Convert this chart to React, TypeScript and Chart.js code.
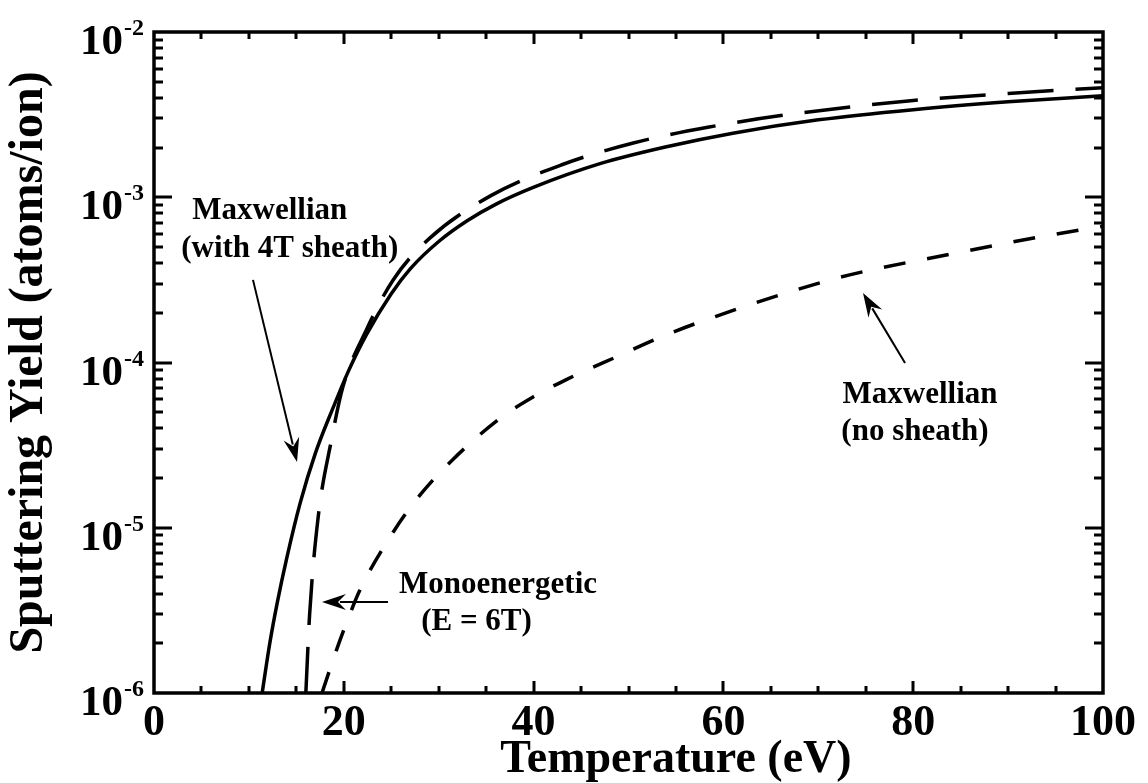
import React, { useEffect, useRef } from 'react';
import { Chart, registerables } from 'chart.js';

Chart.register(...registerables);

// ---- Data (temperature in eV, sputtering yield in atoms/ion) ----
const sheathTemp = [11.4, 12.2, 13.0, 14.0, 15.4, 17.0, 18.9, 20.5, 22.4, 25.0, 27.0, 30.0, 33.0, 36.0, 39.9, 47.0, 54.0, 61.0, 70.0, 80.0, 90.0, 100];
const sheathYield = [1e-6, 2.0e-6, 3.55e-6, 6.6e-6, 1.41e-5, 2.82e-5, 5.37e-5, 8.9e-5, 1.48e-4, 2.61e-4, 3.69e-4, 5.4e-4, 7.21e-4, 9.06e-4, 1.143e-3, 1.596e-3, 2.02e-3, 2.44e-3, 2.94e-3, 3.39e-3, 3.78e-3, 4.12e-3];

const monoTemp = [16.0, 16.4, 17.3, 18.7, 19.9, 22.4, 25.2, 29.0, 35.5, 42.9, 50.5, 58.5, 66.6, 80.0, 90.0, 100];
const monoYield = [1e-6, 3.0e-6, 1.16e-5, 3.4e-5, 7.1e-5, 1.585e-4, 3.16e-4, 5.62e-4, 1.023e-3, 1.567e-3, 2.13e-3, 2.66e-3, 3.15e-3, 3.85e-3, 4.25e-3, 4.6e-3];

const noSheathTemp = [17.7, 19.3, 20.3, 21.7, 25.2, 28.0, 31.5, 36.5, 39.9, 43.5, 48.8, 54.1, 59.3, 68.1, 73.3, 83.6, 94.1, 100];
const noSheathYield = [1e-6, 1.87e-6, 2.67e-6, 4.2e-6, 9.4e-6, 1.57e-5, 2.59e-5, 4.61e-5, 6.17e-5, 7.91e-5, 1.086e-4, 1.48e-4, 1.91e-4, 2.8e-4, 3.39e-4, 4.49e-4, 5.86e-4, 6.67e-4];

// ---- Axis ----
const xMin = 0;
const xMax = 100;
const xLabelStep = 20;
const xMinorStep = 5;
const yExponents = [-6, -5, -4, -3, -2];
const yMinorMultipliers = [2, 3, 4, 5, 6, 7, 8, 9];

const xTitle = 'Temperature (eV)';
const xTitleCenter = 55; // temperature under which the x title is centred
const yTitle = 'Sputtering Yield (atoms/ion)';

// ---- Annotations (data coordinates: temperature, log10 yield of text baseline) ----
const noteTexts = [
  { text: 'Maxwellian', t: 12.2, logY: -3.13 },
  { text: '(with 4T sheath)', t: 14.3, logY: -3.36 },
  { text: 'Monoenergetic', t: 36.25, logY: -5.395 },
  { text: '(E = 6T)', t: 33.98, logY: -5.62 },
  { text: 'Maxwellian', t: 80.72, logY: -4.245 },
  { text: '(no sheath)', t: 80.19, logY: -4.469 },
];
const noteArrows = [
  { t0: 10.43, l0: -3.5, t1: 15.07, l1: -4.602 },
  { t0: 24.66, l0: -5.449, t1: 17.7, l1: -5.449 },
  { t0: 79.14, l0: -4.003, t1: 74.71, l1: -3.579 },
];

const FAMILY = '"Liberation Serif", "Times New Roman", serif';

function toPoints(xs: number[], ys: number[]) {
  return xs.map((x, i) => ({ x, y: ys[i] }));
}

const decorPlugin = {
  id: 'decor',
  afterDatasetsDraw(chart: any) {
    const { ctx, chartArea: a, scales } = chart;
    const xs = scales.x;
    const ys = scales.y;
    ctx.save();
    ctx.strokeStyle = '#000';
    ctx.fillStyle = '#000';
    ctx.lineCap = 'butt';

    // inward ticks
    ctx.lineWidth = 3;
    ctx.beginPath();
    for (let v = xMin + xMinorStep; v < xMax; v += xMinorStep) {
      const px = Math.round(xs.getPixelForValue(v));
      const len = v % xLabelStep === 0 ? 12 : 7;
      ctx.moveTo(px, a.bottom);
      ctx.lineTo(px, a.bottom - len);
      ctx.moveTo(px, a.top);
      ctx.lineTo(px, a.top + len);
    }
    yExponents.forEach((e, i) => {
      const py = Math.round(ys.getPixelForValue(Math.pow(10, e)));
      if (i > 0 && i < yExponents.length - 1) {
        ctx.moveTo(a.left, py);
        ctx.lineTo(a.left + 18, py);
        ctx.moveTo(a.right, py);
        ctx.lineTo(a.right - 18, py);
      }
      if (i < yExponents.length - 1) {
        yMinorMultipliers.forEach((m) => {
          const pm = Math.round(ys.getPixelForValue(m * Math.pow(10, e)));
          ctx.moveTo(a.left, pm);
          ctx.lineTo(a.left + 9, pm);
          ctx.moveTo(a.right, pm);
          ctx.lineTo(a.right - 9, pm);
        });
      }
    });
    ctx.stroke();

    // frame
    ctx.lineWidth = 3.5;
    ctx.strokeRect(a.left, a.top, a.right - a.left, a.bottom - a.top);

    // y tick labels with superscripts
    yExponents.forEach((e) => {
      const py = ys.getPixelForValue(Math.pow(10, e));
      const sup = String(e);
      ctx.font = `bold 24px ${FAMILY}`;
      const supW = ctx.measureText(sup).width;
      const supX = a.left - 10 - supW;
      ctx.textAlign = 'left';
      ctx.textBaseline = 'alphabetic';
      ctx.fillText(sup, supX, py + 3);
      ctx.font = `bold 43px ${FAMILY}`;
      ctx.textAlign = 'right';
      ctx.fillText('10', supX - 1, py + 22);
    });

    // x axis title
    ctx.font = `bold 46px ${FAMILY}`;
    ctx.textAlign = 'center';
    ctx.textBaseline = 'alphabetic';
    ctx.fillText(xTitle, xs.getPixelForValue(xTitleCenter), a.bottom + 79);

    // annotations
    ctx.font = `bold 31px ${FAMILY}`;
    ctx.textAlign = 'center';
    ctx.textBaseline = 'alphabetic';
    noteTexts.forEach((n) => {
      ctx.fillText(n.text, xs.getPixelForValue(n.t), ys.getPixelForValue(Math.pow(10, n.logY)));
    });

    ctx.lineWidth = 2;
    noteArrows.forEach((ar) => {
      const x0 = xs.getPixelForValue(ar.t0);
      const y0 = ys.getPixelForValue(Math.pow(10, ar.l0));
      const x1 = xs.getPixelForValue(ar.t1);
      const y1 = ys.getPixelForValue(Math.pow(10, ar.l1));
      const ang = Math.atan2(y1 - y0, x1 - x0);
      const hl = 22;
      const hw = 8;
      const bx = x1 - hl * Math.cos(ang);
      const by = y1 - hl * Math.sin(ang);
      ctx.beginPath();
      ctx.moveTo(x0, y0);
      ctx.lineTo(bx + 4 * Math.cos(ang), by + 4 * Math.sin(ang));
      ctx.stroke();
      const nx = -Math.sin(ang);
      const ny = Math.cos(ang);
      ctx.beginPath();
      ctx.moveTo(x1, y1);
      ctx.lineTo(bx + nx * hw - 2 * Math.cos(ang), by + ny * hw - 2 * Math.sin(ang));
      ctx.lineTo(bx + 6 * Math.cos(ang), by + 6 * Math.sin(ang));
      ctx.lineTo(bx - nx * hw - 2 * Math.cos(ang), by - ny * hw - 2 * Math.sin(ang));
      ctx.closePath();
      ctx.fill();
    });
    ctx.restore();
  },
};

export default function App() {
  const canvasRef = useRef<HTMLCanvasElement | null>(null);

  useEffect(() => {
    if (!canvasRef.current) return;
    const lineCommon = {
      borderColor: '#000',
      borderWidth: 3.5,
      pointRadius: 0,
      pointHoverRadius: 0,
      fill: false,
      cubicInterpolationMode: 'monotone' as const,
    };
    const chart = new Chart(canvasRef.current, {
      type: 'line',
      data: {
        datasets: [
          { ...lineCommon, label: 'Maxwellian (with 4T sheath)', data: toPoints(sheathTemp, sheathYield) },
          { ...lineCommon, label: 'Monoenergetic (E = 6T)', data: toPoints(monoTemp, monoYield), borderDash: [46, 22] },
          { ...lineCommon, label: 'Maxwellian (no sheath)', data: toPoints(noSheathTemp, noSheathYield), borderDash: [22, 22] },
        ],
      },
      options: {
        animation: false,
        responsive: false,
        events: [],
        layout: { padding: { top: 32, right: 45, left: 0, bottom: 0 } },
        plugins: { legend: { display: false }, tooltip: { enabled: false } },
        scales: {
          x: {
            type: 'linear',
            min: xMin,
            max: xMax,
            grid: { display: false, drawTicks: false },
            border: { display: false },
            ticks: {
              stepSize: xLabelStep,
              maxRotation: 0,
              padding: 4,
              color: '#000',
              font: { family: FAMILY, size: 44, weight: 'bold' },
            },
            title: { display: false },
            afterFit: (scale: any) => {
              scale.height = 90;
            },
          },
          y: {
            type: 'logarithmic',
            min: 1e-6,
            max: 1e-2,
            grid: { display: false, drawTicks: false },
            border: { display: false },
            ticks: { display: false },
            title: {
              display: true,
              text: yTitle,
              color: '#000',
              padding: { top: 6, bottom: 0 },
              font: { family: FAMILY, size: 48, weight: 'bold', lineHeight: 1 },
            },
            afterFit: (scale: any) => {
              scale.width = 154;
            },
          },
        },
      },
      plugins: [decorPlugin],
    });
    return () => chart.destroy();
  }, []);

  return (
    <div style={{ position: 'absolute', left: 0, top: 0, width: 1148, height: 783, background: '#fff' }}>
      <canvas ref={canvasRef} width={1148} height={783} style={{ display: 'block' }} />
    </div>
  );
}
